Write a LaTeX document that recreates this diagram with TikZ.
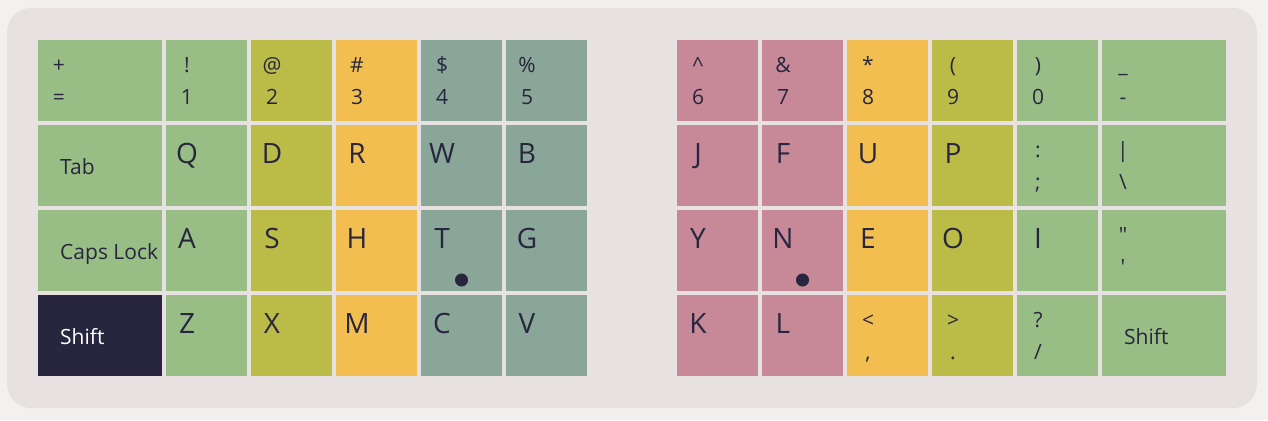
\documentclass[tikz,border=0pt]{standalone}
\usepackage{fontspec}
\setmainfont{Open Sans}[Ligatures=TeXOff]
\usetikzlibrary{calc}
\definecolor{outerbg}{HTML}{F2F1EF}
\definecolor{panelbg}{HTML}{E7E1E1}
\definecolor{kgreen}{HTML}{98BE86}
\definecolor{kolive}{HTML}{BBBB48}
\definecolor{kyellow}{HTML}{F2BE4F}
\definecolor{kteal}{HTML}{8AA699}
\definecolor{kpink}{HTML}{C78897}
\definecolor{kdark}{HTML}{27263E}
\definecolor{ktext}{HTML}{27263E}
\tikzset{
  keybox/.style={draw=none,inner sep=0pt,outer sep=0pt,minimum height=80.5pt,anchor=north west},
  bigtxt/.style={inner sep=0pt,text=ktext,font=\fontsize{28}{32}\selectfont},
  smalltxt/.style={inner sep=0pt,text=ktext,font=\fontsize{21}{25}\selectfont},
}
\newcommand\biglbl[2]{\node[bigtxt,anchor=base] (#1-t) at ($(#1.north west)+(21,38)$) {#2};}
\newcommand\twolbl[3]{\node[smalltxt,anchor=base] (#1-u) at ($(#1.north west)+(21,32)$) {#2};
  \node[smalltxt,anchor=base] (#1-l) at ($(#1.north west)+(21,64)$) {#3};}
\newcommand\widelbl[3][]{\node[smalltxt,anchor=base west,#1] (#2-t) at ($(#2.north west)+(22,49)$) {#3};}
\begin{document}
\begin{tikzpicture}[x=1pt,y=-1pt]
\fill[outerbg] (0,0) rectangle (1268,420);
\useasboundingbox (0,0) rectangle (1268,420);
\fill[panelbg,rounded corners=24pt] (7,8) rectangle (1257,408);
\foreach \c/\x/\w/\col in {0/38/124/kgreen,1/166/81/kgreen,2/251/81/kolive,3/336/81/kyellow,4/421/81/kteal,5/506/81/kteal,6/677/81/kpink,7/762/81/kpink,8/847/81/kyellow,9/932/81/kolive,10/1017/81/kgreen,11/1102/124/kgreen}{
  \foreach \r/\y in {1/40,2/125,3/210,4/295}{
    \edef\kc{\col}
    \ifnum\r=4 \ifnum\c=0 \def\kc{kdark}\fi\fi
    \node[keybox,fill=\kc,minimum width=\w] (k\r-\c) at (\x,\y) {};
  }
}
% row 1
\twolbl{k1-0}{+}{=}
\twolbl{k1-1}{!}{1}
\twolbl{k1-2}{@}{2}
\twolbl{k1-3}{\#}{3}
\twolbl{k1-4}{\$}{4}
\twolbl{k1-5}{\%}{5}
\twolbl{k1-6}{\textasciicircum}{6}
\twolbl{k1-7}{\&}{7}
\twolbl{k1-8}{*}{8}
\twolbl{k1-9}{(}{9}
\twolbl{k1-10}{)}{0}
\twolbl{k1-11}{\_}{-}
% row 2
\widelbl{k2-0}{Tab}
\biglbl{k2-1}{Q}
\biglbl{k2-2}{D}
\biglbl{k2-3}{R}
\biglbl{k2-4}{W}
\biglbl{k2-5}{B}
\biglbl{k2-6}{J}
\biglbl{k2-7}{F}
\biglbl{k2-8}{U}
\biglbl{k2-9}{P}
\twolbl{k2-10}{:}{;}
\twolbl{k2-11}{|}{\textbackslash}
% row 3
\widelbl{k3-0}{Caps Lock}
\biglbl{k3-1}{A}
\biglbl{k3-2}{S}
\biglbl{k3-3}{H}
\biglbl{k3-4}{T}
\biglbl{k3-5}{G}
\biglbl{k3-6}{Y}
\biglbl{k3-7}{N}
\biglbl{k3-8}{E}
\biglbl{k3-9}{O}
\biglbl{k3-10}{I}
\twolbl{k3-11}{"}{'}
\fill[ktext] ($(k3-4.north west)+(40.5,70)$) circle (6.5pt);
\fill[ktext] ($(k3-7.north west)+(40.5,70)$) circle (6.5pt);
% row 4
\widelbl[text=white]{k4-0}{Shift}
\biglbl{k4-1}{Z}
\biglbl{k4-2}{X}
\biglbl{k4-3}{M}
\biglbl{k4-4}{C}
\biglbl{k4-5}{V}
\biglbl{k4-6}{K}
\biglbl{k4-7}{L}
\twolbl{k4-8}{<}{,}
\twolbl{k4-9}{>}{.}
\twolbl{k4-10}{?}{/}
\widelbl{k4-11}{Shift}
\end{tikzpicture}
\end{document}
